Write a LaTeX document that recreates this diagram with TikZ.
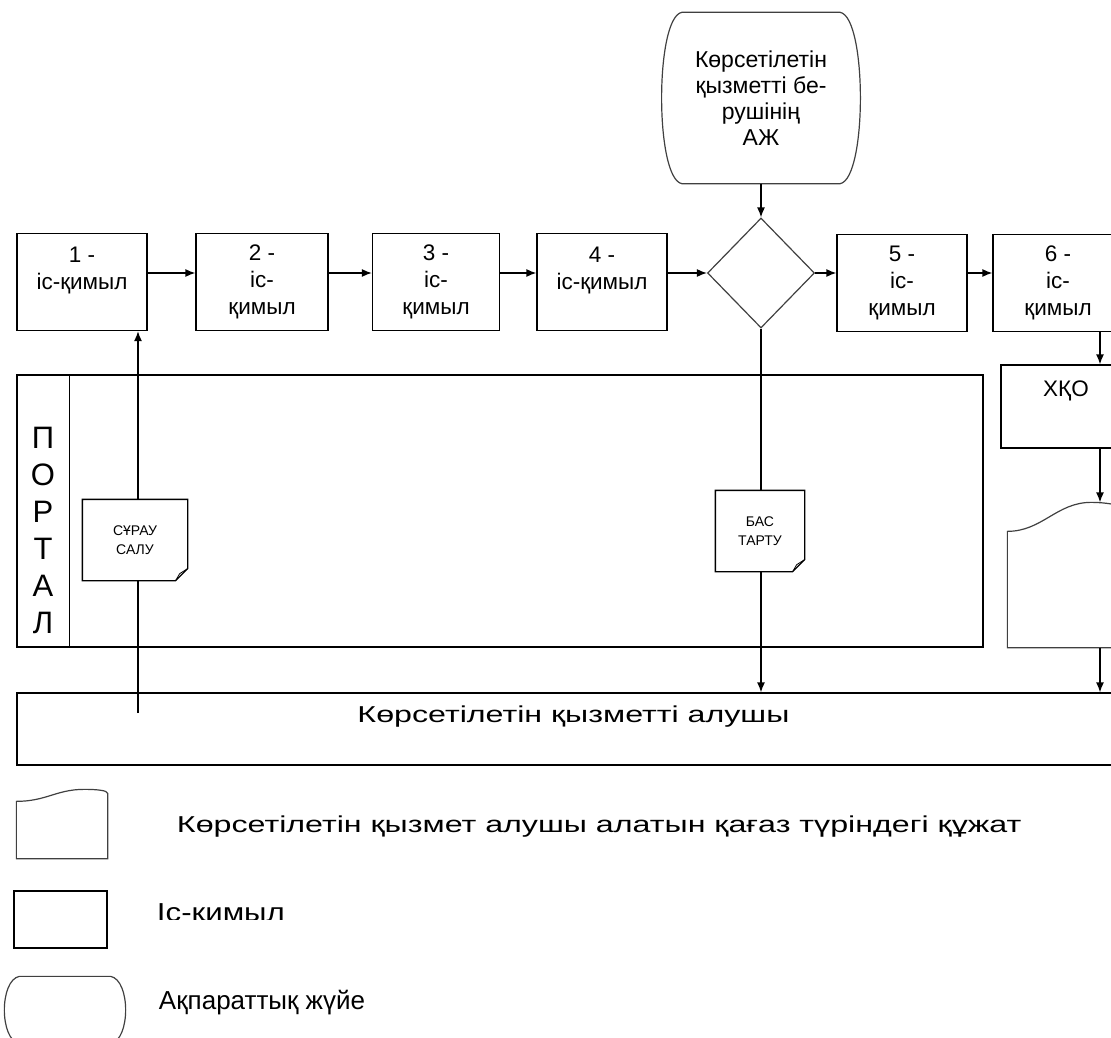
\documentclass[tikz,border=0pt]{standalone}
\usepackage{fontspec}
\setmainfont{Liberation Sans}
\newfontfamily\widefont[FakeStretch=1.4]{Liberation Sans}
\newfontfamily\midfont[FakeStretch=1.2]{Liberation Sans}
\usetikzlibrary{arrows.meta,shapes.geometric}

\begin{document}
\begin{tikzpicture}[x=1pt,y=-1pt,line width=1.3pt,
    act/.style={draw,minimum width=130pt,minimum height=97pt,inner sep=0pt,
      align=center,font=\fontsize{22.5}{27}\selectfont},
    soft/.style={draw=black!75,line width=1.2pt},
    arr/.style={-{Latex[length=10pt,width=8pt]}},
    paper/.style={fill=white,inner sep=0pt,align=center,font=\fontsize{14}{19}\selectfont},
    big/.style={font=\widefont\fontsize{23}{30}\selectfont}]
  \useasboundingbox (0,0) rectangle (1111,1038);

  \node[act] (b1) at (82,282) {1 -\\іс-қимыл\\~};
  \node[act,minimum width=132pt] (b2) at (262,282) {2 -\\іс-\\қимыл};
  \node[act,minimum width=127pt] (b3) at (436,282) {3 -\\іс-\\қимыл};
  \node[act] (b4) at (602,282) {4 -\\іс-қимыл\\~};
  \node[diamond,soft,minimum width=107pt,minimum height=110pt,inner sep=0pt] (sh) at (761,273) {};
  \node[act] (b5) at (902,283) {5 -\\іс-\\қимыл};
  \node[act] (b6) at (1058,283) {6 -\\іс-\\қимыл};

  \node[minimum width=197pt,minimum height=170pt,align=center,
    font=\fontsize{23}{26}\selectfont] (ais) at (761,98)
    {Көрсетілетін\\қызметті бе-\\рушінің\\АЖ};
  \draw[soft] ([xshift=20pt]ais.north west) -- ([xshift=-20pt]ais.north east)
    .. controls +(27,5) and +(27,-5) .. ([xshift=-20pt]ais.south east)
    -- ([xshift=20pt]ais.south west)
    .. controls +(-27,-5) and +(-27,5) .. cycle;

  \node[draw,minimum width=966pt,minimum height=272pt] (portal) at (500,511) {};
  \draw ([xshift=53pt]portal.north west) -- ([xshift=53pt]portal.south west);
  \node[align=center,font=\fontsize{31}{37}\selectfont] (plbl) at (43,530) {П\\О\\Р\\Т\\А\\Л};

  \node[draw,minimum width=1113pt,minimum height=72pt,align=center,big] (alu) at (573.5,729)
    {Көрсетілетін қызметті алушы\\~};

  \node[draw,minimum width=130pt,minimum height=83pt,align=center,
    font=\fontsize{22.5}{36}\selectfont] (xqo) at (1066,406.5) {ХҚО\\~};
  \node[minimum width=122pt,minimum height=144pt] (qag) at (1069,575) {};
  \draw[soft] (qag.south west) -- ([yshift=-29pt]qag.north west)
    .. controls +(35,0) and +(-35,0) .. ([xshift=84pt]qag.north west)
    .. controls +(15,0) and +(-10,-3) .. ([yshift=-6pt]qag.north east)
    -- (qag.south east) -- cycle;

  \coordinate (rx) at (1100,0);
  \coordinate (st) at (138,713);

  \draw[arr] (ais.south) -- (sh.north);
  \draw[arr] (b1.east |- sh) -- (b2.west |- sh);
  \draw[arr] (b2.east |- sh) -- (b3.west |- sh);
  \draw[arr] (b3.east |- sh) -- (b4.west |- sh);
  \draw[arr] (b4.east |- sh) -- (sh.west);
  \draw[arr] (sh.east) -- (b5.west |- sh);
  \draw[arr] (b5.east |- sh) -- (b6.west |- sh);
  \draw[arr] (b6.south -| rx) -- (xqo.north -| rx);
  \draw[arr] (xqo.south -| rx) -- (qag.north -| rx);
  \draw[arr] (qag.south -| rx) -- (alu.north -| rx);
  \draw[arr] (st) -- (st |- b1.south);
  \draw[arr] (sh.south) -- (sh.south |- alu.north);

  \node[paper,minimum width=104pt,minimum height=80pt] (sur) at (135,540) {СҰРАУ\\САЛУ};
  \draw (sur.north west) -- (sur.north east) -- ([yshift=12pt]sur.south east)
    -- ([xshift=-12pt]sur.south east) -- (sur.south west) -- cycle;
  \draw[line width=0.8pt] ([yshift=12pt]sur.south east) -- ([xshift=-8pt,yshift=7pt]sur.south east)
    -- ([xshift=-12pt]sur.south east);
  \node[paper,minimum width=88pt,minimum height=80pt] (bas) at (760,531) {БАС\\ТАРТУ};
  \draw (bas.north west) -- (bas.north east) -- ([yshift=12pt]bas.south east)
    -- ([xshift=-12pt]bas.south east) -- (bas.south west) -- cycle;
  \draw[line width=0.8pt] ([yshift=12pt]bas.south east) -- ([xshift=-8pt,yshift=7pt]bas.south east)
    -- ([xshift=-12pt]bas.south east);

  \node[minimum width=90pt,minimum height=68pt] (lgdoc) at (62,824) {};
  \draw[soft] (lgdoc.south west) -- ([yshift=-12pt]lgdoc.north west)
    .. controls +(30,0) and +(-28,0) .. ([xshift=68pt]lgdoc.north west)
    .. controls +(12,0) and +(0,-3) .. ([yshift=-4pt]lgdoc.north east)
    -- (lgdoc.south east) -- cycle;
  \node[anchor=west,big] (lt1) at (173,827) {Көрсетілетін қызмет алушы алатын қағаз түріндегі құжат};

  \node[draw,minimum width=93pt,minimum height=57pt] (lgact) at (60.5,919.5) {};
  \begin{scope}
    \clip (140,885) rectangle (420,919);
    \node[anchor=west,font=\midfont\fontsize{26}{30}\selectfont] (lt2) at (153,915) {Іс-қимыл};
  \end{scope}

  \node[minimum width=90pt,minimum height=66pt] (lgais) at (65,1010) {};
  \draw[soft] (lgais.north west) -- (lgais.north east)
    .. controls +(20,4) and +(20,-4) .. (lgais.south east)
    -- (lgais.south west)
    .. controls +(-20,-4) and +(-20,4) .. cycle;
  \node[anchor=west,font=\fontsize{26}{30}\selectfont] (lt3) at (155,1003) {Ақпараттық жүйе};
\end{tikzpicture}
\end{document}
